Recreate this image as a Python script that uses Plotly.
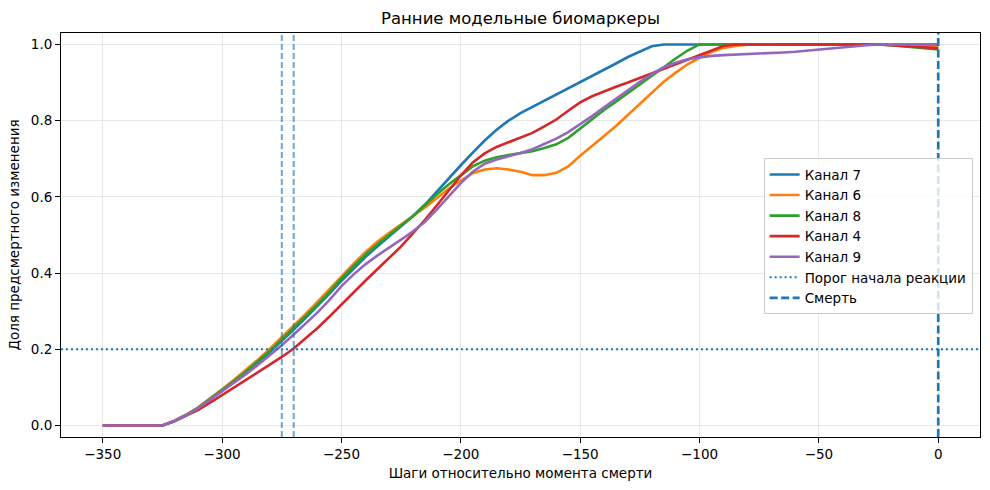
import plotly.graph_objects as go

steps = list(range(-350, 5, 5))
zeros = [0.0] * 6

kanal7 = zeros + [0.012, 0.027, 0.046, 0.068, 0.091, 0.115, 0.14, 0.166, 0.193, 0.222, 0.252, 0.283, 0.314, 0.346,
                  0.38, 0.412, 0.442, 0.47, 0.496, 0.522, 0.55, 0.58, 0.615, 0.65, 0.683, 0.716, 0.748, 0.776, 0.8,
                  0.82, 0.836, 0.852, 0.868, 0.884, 0.9, 0.916, 0.933, 0.95, 0.967, 0.982, 0.995, 1.0] + [1.0] * 23
kanal8 = zeros + [0.012, 0.028, 0.047, 0.07, 0.093, 0.117, 0.142, 0.168, 0.196, 0.226, 0.256, 0.287, 0.318, 0.351,
                  0.386, 0.418, 0.448, 0.475, 0.5, 0.525, 0.55, 0.578, 0.607, 0.633, 0.657, 0.68, 0.695, 0.704, 0.71,
                  0.715, 0.72, 0.728, 0.738, 0.755, 0.78, 0.804, 0.828, 0.85, 0.872, 0.895, 0.918, 0.94, 0.963, 0.984,
                  1.0] + [1.0] * 15 + [0.998, 0.995, 0.992, 0.989, 0.987]
kanal6 = zeros + [0.013, 0.029, 0.048, 0.071, 0.095, 0.12, 0.146, 0.173, 0.202, 0.232, 0.262, 0.293, 0.325, 0.358,
                  0.392, 0.424, 0.455, 0.482, 0.506, 0.528, 0.55, 0.572, 0.597, 0.622, 0.643, 0.662, 0.672, 0.675,
                  0.672, 0.666, 0.657, 0.657, 0.663, 0.68, 0.708, 0.735, 0.76, 0.786, 0.815, 0.845, 0.873, 0.902,
                  0.926, 0.948, 0.965, 0.98, 0.991, 0.996, 0.999] + [1.0] * 12 + [0.998, 0.996, 0.994, 0.993]
kanal4 = zeros + [0.011, 0.025, 0.041, 0.06, 0.08, 0.099, 0.119, 0.138, 0.159, 0.18, 0.202, 0.228, 0.256, 0.286,
                  0.318, 0.35, 0.38, 0.41, 0.44, 0.47, 0.505, 0.54, 0.578, 0.618, 0.656, 0.69, 0.714, 0.731, 0.744,
                  0.755, 0.768, 0.785, 0.803, 0.826, 0.848, 0.864, 0.877, 0.889, 0.9, 0.912, 0.924, 0.936, 0.948,
                  0.96, 0.972, 0.985, 0.996] + [1.0] * 13 + [0.998, 0.996, 0.994, 0.992, 0.99]
kanal9 = zeros + [0.012, 0.027, 0.046, 0.068, 0.09, 0.112, 0.135, 0.159, 0.184, 0.211, 0.239, 0.268, 0.297, 0.33,
                  0.366, 0.396, 0.423, 0.446, 0.466, 0.488, 0.51, 0.535, 0.567, 0.603, 0.636, 0.666, 0.687, 0.698,
                  0.706, 0.715, 0.725, 0.738, 0.753, 0.77, 0.79, 0.812, 0.835, 0.858, 0.88, 0.902, 0.922, 0.94, 0.952,
                  0.961, 0.966, 0.97, 0.972, 0.973, 0.974, 0.975, 0.977, 0.979, 0.981, 0.984, 0.986, 0.989, 0.992,
                  0.995, 0.998, 1.0, 1.0, 1.0, 1.0, 1.0, 1.0]

series_names = ["Канал 7", "Канал 6", "Канал 8", "Канал 4", "Канал 9"]
series_values = [kanal7, kanal6, kanal8, kanal4, kanal9]
series_colors = ["#1f77b4", "#ff7f0e", "#2ca02c", "#d62728", "#9467bd"]

threshold = 0.2
onset_steps = [-275, -270]
death_step = 0
x_ticks = [-350, -300, -250, -200, -150, -100, -50, 0]
y_ticks = [0.0, 0.2, 0.4, 0.6, 0.8, 1.0]

FONT = "DejaVu Sans"
FS = 13.5
fig = go.Figure()

for name, vals, col in zip(series_names, series_values, series_colors):
    fig.add_trace(go.Scatter(x=steps, y=vals, mode="lines", name=name,
                             line=dict(color=col, width=2.6)))

fig.add_shape(type="line", xref="paper", x0=0, x1=1, yref="y", y0=threshold, y1=threshold,
              line=dict(color="#1f77b4", width=2, dash="2px,3px"),
              showlegend=True, name="Порог начала реакции", layer="above")
for s in onset_steps:
    fig.add_shape(type="line", xref="x", x0=s, x1=s, yref="paper", y0=0, y1=1,
                  line=dict(color="rgba(31,119,180,0.65)", width=2, dash="6px,3px"), layer="above")
fig.add_shape(type="line", xref="x", x0=death_step, x1=death_step, yref="paper", y0=0, y1=1,
              line=dict(color="#1f77b4", width=2.7, dash="8px,3.5px"),
              showlegend=True, name="Смерть", layer="above")

axis_common = dict(showline=True, linecolor="black", linewidth=1, mirror=True,
                   ticks="outside", ticklen=5, tickwidth=1, tickcolor="black",
                   showgrid=True, gridcolor="#e8e8e8", gridwidth=1, zeroline=False,
                   tickfont=dict(family=FONT, size=FS, color="black"))

fig.update_layout(
    width=990, height=490,
    margin=dict(l=61, r=10, t=33, b=53),
    plot_bgcolor="white", paper_bgcolor="white",
    font=dict(family=FONT, size=FS, color="black"),
    title=dict(text="Ранние модельные биомаркеры", x=0.5, xref="paper", xanchor="center",
               y=1 - 18 / 490, yref="container", yanchor="middle",
               font=dict(family=FONT, size=16.5, color="black")),
    xaxis=dict(range=[-367.5, 17.5], tickvals=x_ticks,
               title=dict(text="Шаги относительно момента смерти", font=dict(family=FONT, size=FS), standoff=7),
               **axis_common),
    yaxis=dict(range=[-0.03, 1.03], tickvals=y_ticks, tickformat=".1f",
               title=dict(text="Доля предсмертного изменения", font=dict(family=FONT, size=FS), standoff=8),
               **axis_common),
    legend=dict(x=0.992, xanchor="right", y=0.69, yanchor="top",
                bgcolor="rgba(255,255,255,0.8)", bordercolor="#cccccc", borderwidth=1,
                font=dict(family=FONT, size=FS, color="black"), tracegroupgap=0),
    showlegend=True,
)

fig.write_html("out.html")
